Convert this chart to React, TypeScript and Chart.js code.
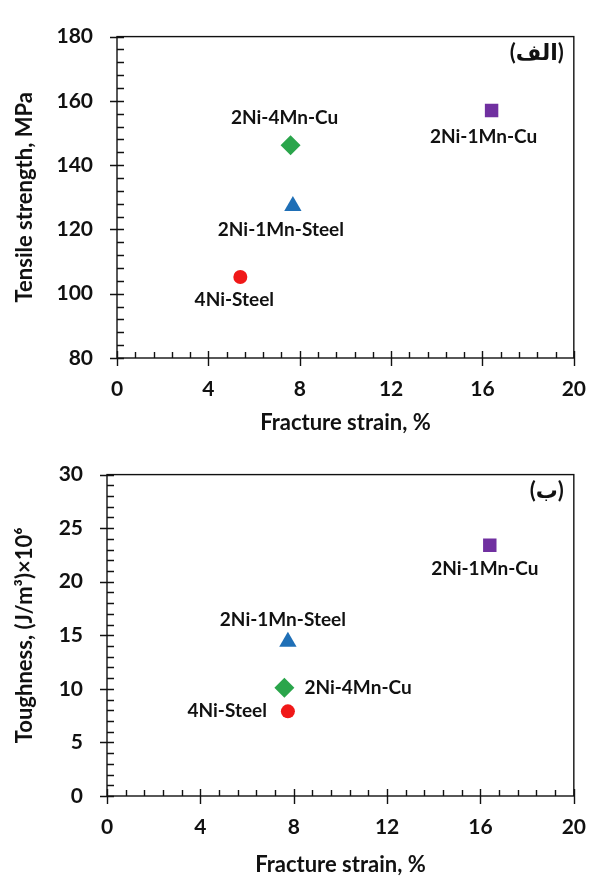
import React, { useEffect, useRef } from 'react';
import { Chart, registerables } from 'chart.js';

Chart.register(...registerables);

// ---------- data ----------
const materials = ['4Ni-Steel', '2Ni-1Mn-Steel', '2Ni-4Mn-Cu', '2Ni-1Mn-Cu'];
const fractureStrainA = [5.4, 7.7, 7.6, 16.4];
const tensileStrength = [105.2, 127.3, 146.2, 157.0];
const fractureStrainB = [7.75, 7.75, 7.6, 16.4];
const toughness = [7.9, 14.4, 10.1, 23.4];
const xTickValues = [0, 4, 8, 12, 16, 20];
const tensileTickValues = [80, 100, 120, 140, 160, 180];
const toughnessTickValues = [0, 5, 10, 15, 20, 25, 30];
const panelTagA = '(الف)';
const panelTagB = '(ب)';

// ---------- styles ----------
const FONT = 'Lato, "DejaVu Sans", sans-serif';
const pointStyles = ['circle', 'triangle', 'rectRot', 'rect'];
const pointRadii = [7, 10, 10, 9.5];
const pointColors = ['#F01818', '#1F6FB6', '#2AA54B', '#7030A0'];

const placementA = [
  { dx: -6, dy: 23, align: 'center' },
  { dx: -12, dy: 24, align: 'center' },
  { dx: -6, dy: -27, align: 'center' },
  { dx: -8, dy: 26, align: 'center' },
];
const placementB = [
  { dx: -21, dy: 0, align: 'right' },
  { dx: -5, dy: -22, align: 'center' },
  { dx: 20, dy: 0, align: 'left' },
  { dx: -5, dy: 24, align: 'center' },
];

const framePlugin = {
  id: 'frame',
  afterDraw(chart: any, _a: any, opts: any) {
    const { ctx, chartArea: a, scales } = chart;
    const x = scales.x, y = scales.y;
    ctx.save();
    ctx.strokeStyle = '#111';
    ctx.lineWidth = 1.4;
    ctx.strokeRect(a.left, a.top, a.right - a.left, a.bottom - a.top);
    ctx.beginPath();
    x.ticks.forEach((t: any) => {
      const px = Math.round(x.getPixelForValue(t.value)) + 0.5;
      ctx.moveTo(px, a.bottom - 7);
      ctx.lineTo(px, a.bottom + 8);
    });
    const nx = Math.round((x.max - x.min) / opts.xMinor);
    for (let i = 0; i <= nx; i++) {
      if (i % opts.xRatio === 0) continue;
      const px = Math.round(x.getPixelForValue(x.min + i * opts.xMinor)) + 0.5;
      ctx.moveTo(px, a.bottom - 6);
      ctx.lineTo(px, a.bottom);
    }
    y.ticks.forEach((t: any) => {
      const py = Math.round(y.getPixelForValue(t.value)) + 0.5;
      ctx.moveTo(a.left - 7, py);
      ctx.lineTo(a.left + 7, py);
    });
    const ny = Math.round((y.max - y.min) / opts.yMinor);
    for (let i = 0; i <= ny; i++) {
      if (i % opts.yRatio === 0) continue;
      const py = Math.round(y.getPixelForValue(y.min + i * opts.yMinor)) + 0.5;
      ctx.moveTo(a.left, py);
      ctx.lineTo(a.left + 7, py);
    }
    ctx.stroke();
    ctx.restore();
  },
};

const labelPlugin = {
  id: 'pointLabels',
  afterDatasetsDraw(chart: any, _a: any, opts: any) {
    const { ctx, chartArea: a } = chart;
    const meta = chart.getDatasetMeta(0);
    ctx.save();
    ctx.fillStyle = '#111';
    ctx.textBaseline = 'middle';
    ctx.font = `bold 19px ${FONT}`;
    meta.data.forEach((el: any, i: number) => {
      const p = opts.placement[i];
      ctx.textAlign = p.align;
      ctx.fillText(opts.names[i], el.x + p.dx, el.y + p.dy);
    });
    ctx.font = `bold 22px ${FONT}`;
    ctx.textAlign = 'right';
    ctx.fillText(opts.tag, a.right - 10, a.top + 16);
    ctx.restore();
  },
};

function makeConfig(
  xs: number[], ys: number[], yTicks: number[], yTitle: string,
  yWidth: number, padTop: number, padRight: number, xTitlePad: number,
  placement: any[], tag: string, yMinor: number
) {
  return {
    type: 'scatter',
    data: {
      datasets: [
        {
          data: xs.map((v, i) => ({ x: v, y: ys[i] })),
          pointStyle: pointStyles,
          pointRadius: pointRadii,
          pointHoverRadius: pointRadii,
          backgroundColor: pointColors,
          borderColor: pointColors,
          borderWidth: 0,
        },
      ],
    },
    options: {
      responsive: false,
      animation: false,
      events: [],
      layout: { padding: { top: padTop, right: padRight, left: 0, bottom: 0 } },
      plugins: {
        legend: { display: false },
        tooltip: { enabled: false },
        frame: { xMinor: 0.8, xRatio: 5, yMinor, yRatio: Math.round((yTicks[1] - yTicks[0]) / yMinor) },
        pointLabels: { names: materials, placement, tag },
      },
      scales: {
        x: {
          type: 'linear',
          min: xTickValues[0],
          max: xTickValues[xTickValues.length - 1],
          afterBuildTicks: (s: any) => { s.ticks = xTickValues.map((v) => ({ value: v })); },
          ticks: { padding: 19, color: '#111', font: { family: FONT, size: 21, weight: 'bold' }, autoSkip: false, maxRotation: 0 },
          grid: { display: false, drawTicks: false },
          border: { display: false },
          title: {
            display: true, text: 'Fracture strain, %', color: '#111',
            font: { family: FONT, size: 22, weight: 'bold', lineHeight: 1 },
            padding: { top: 0, bottom: xTitlePad },
          },
          afterFit: (s: any) => { s.height = 80; },
        },
        y: {
          type: 'linear',
          min: yTicks[0],
          max: yTicks[yTicks.length - 1],
          afterBuildTicks: (s: any) => { s.ticks = yTicks.map((v) => ({ value: v })); },
          ticks: { padding: 24, color: '#111', font: { family: FONT, size: 21, weight: 'bold' }, autoSkip: false },
          grid: { display: false, drawTicks: false },
          border: { display: false },
          title: {
            display: true, text: yTitle, color: '#111',
            font: { family: FONT, size: 22, weight: 'bold', lineHeight: 1 },
            padding: { top: 14, bottom: 0 },
          },
          afterFit: (s: any) => { s.width = yWidth; },
        },
      },
    },
    plugins: [framePlugin, labelPlugin],
  };
}

function Panel({ build }: { build: () => any }) {
  const ref = useRef<HTMLCanvasElement | null>(null);
  useEffect(() => {
    const chart = new Chart(ref.current as HTMLCanvasElement, build());
    return () => chart.destroy();
  }, []);
  return <canvas ref={ref} width={605} height={438} style={{ display: 'block', width: 605, height: 438 }} />;
}

export default function App() {
  return (
    <div style={{ position: 'absolute', left: 0, top: 0, width: 605, height: 876, background: '#fff' }}>
      <Panel
        build={() =>
          makeConfig(fractureStrainA, tensileStrength, tensileTickValues, 'Tensile strength, MPa',
            117, 23, 14, 4, placementA, panelTagA, 4)
        }
      />
      <Panel
        build={() =>
          makeConfig(fractureStrainB, toughness, toughnessTickValues, 'Toughness, (J/m³)×10⁶',
            107, 20, 17, 0, placementB, panelTagB, 1)
        }
      />
    </div>
  );
}
